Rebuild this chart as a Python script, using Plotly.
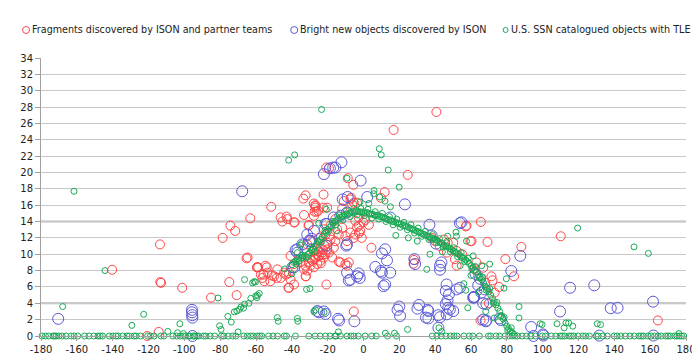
import plotly.graph_objects as go

# ---------------- data (longitude deg, inclination deg) ----------------
red_x = [-120.8, -114.3, -113.6, -113.4, -113.0, -101.2, -140.3, -85.1, -78.6, -74.3, -71.6, -74.9, -70.8, -65.3, -63.2, -59.5,
         -51.5, -46.2, -42.5, -38.8, -30.4, -26.2, -42.9, -33.2, -45.3, -30.7, -26.8, -27.7, -38.4,
         -59.2, -54.6, -53.6, -56.4, -55.4, -57.3, -48.1, -46.2, -44.3, -40.7, -41.6, -38.8, -49.9, -32.3, -31.4, -55.8,
         -51.2, -48.4, -52.0, -41.9, -43.2, -41.6, -32.1, -20.7, -38.8, -36.9, -40.7, -64.7, -58.8, -54.0,
         -27.7, -25.8, -24.0, -23.1, -24.9, -26.8, -28.6, -30.4, -22.1, -21.2, -24.0, -25.8, -29.6, -20.3, -19.3, -27.7,
         -32.3, -35.1, -33.2, -17.5, -16.6, -15.7, -18.4, -13.8, -11.9, -14.7, -10.1, -9.2, -7.3, -5.4, -12.9, -9.2, -8.2,
         -2.7, -4.6, -15.7, -18.4, -22.1, -21.2, -24.9, -28.6, -31.4,
         -26.0, -23.0, -22.5, -25.0, -21.8, -20.0, -27.0, -23.8, -30.0, -19.0,
         -13.8, -10.1, -4.6, -1.8, -3.6, -0.1, -2.5, 4.4, -5.4, -2.5, 1.0, 3.0, -1.0,
         -20.8, -19.3, -8.8, -5.7, -32.3, -33.6, -22.3, -27.7, -26.8, -25.3, -22.5, -20.3, -11.0, -11.9, -7.3, -6.4, -3.6,
         11.8, 9.7, -6.9, -5.4, -26.9, -27.3,
         40.7, 16.8, 24.7,
         27.9, 28.2, 40.0, 42.5, 47.0, 50.1, 52.0, 51.0, 52.0, 57.5, 60.3, 65.5, 57.1, 59.7, 69.2, 88.1, 79.2, 84.0, 110.1,
         164.3, 66.8, 71.4, 75.7, 73.2, 65.3, 62.0, 68.0, 72.0, 55.0, 45.0, 38.0, 63.0, 70.0, 46.5]
red_y = [0.0, 0.5, 11.2, 6.6, 6.5, 5.9, 8.1, 4.7, 12.0, 13.5, 12.85, 6.6, 5.0, 9.5, 14.4, 8.4,
         15.8, 14.5, 14.3, 13.9, 13.6, 15.2, 14.6, 14.8, 14.0, 13.5, 15.7, 14.7, 13.9,
         8.4, 8.6, 7.75, 7.1, 6.7, 7.5, 8.15, 7.1, 7.75, 6.9, 5.9, 6.3, 7.3, 7.3, 8.0, 7.5,
         7.4, 7.1, 6.7, 5.9, 7.5, 7.7, 7.3, 6.3, 8.8, 9.2, 9.8, 9.6, 8.4, 8.4,
         10.4, 10.6, 10.8, 10.2, 9.8, 9.6, 9.2, 9.0, 9.6, 10.0, 9.2, 8.8, 8.6, 10.6, 10.2, 8.4,
         8.6, 9.0, 8.15, 9.6, 10.8, 11.6, 11.8, 12.4, 13.25, 13.05, 12.2, 11.6, 12.65, 12.0, 9.0, 8.6, 9.0,
         14.5, 14.1, 14.3, 13.5, 13.05, 12.4, 12.0, 11.6, 11.2,
         10.0, 9.9, 10.5, 10.3, 11.1, 11.4, 9.4, 8.9, 9.5, 12.2,
         9.1, 8.8, 12.4, 12.85, 13.3, 13.9, 13.5, 10.8, 3.0, 12.6, 14.2, 13.6, 12.0,
         20.6, 20.5, 19.3, 18.5, 17.2, 16.8, 17.3, 16.2, 15.9, 15.3, 15.7, 15.7, 16.5, 15.6, 16.7, 16.1, 16.3,
         17.6, 16.9, 16.9, 16.3, 16.0, 15.2,
         27.4, 25.2, 19.7,
         8.85, 9.3, 11.6, 11.0, 11.4, 11.4, 10.4, 9.4, 8.6, 13.5, 11.6, 13.95, 13.4, 11.6, 11.5, 10.9, 9.4, 7.3, 12.2,
         1.9, 8.35, 7.3, 6.0, 5.3, 1.9, 8.2, 6.5, 6.8, 10.0, 11.8, 12.0, 9.0, 4.0, 10.2]

blue_x = [-170.4, -95.7, -95.7, -95.6, -95.5, -95.5, -67.7,
          -12.3, -16.9, -18.8, -22.1, -15.7, -1.6, 2.1, 23.1, 14.9, 36.8, -20.3,
          -30.4, -29.0, -34.2, -37.9, -36.9, -39.7, -20.7, -9.6,
          10.3, 12.1, 13.1, 14.9, 11.2, 9.7, 6.6, 12.1, 10.3,
          -9.2, -8.2, -2.7, -2.1, -3.6, -7.3,
          28.4, 28.8,
          -24.9, -22.1, -21.2, -14.2, -5.1, -25.8,
          19.0, 20.4, 30.1, 36.2, 34.9, 36.2, 35.8,
          42.7, 46.4, 47.3, 46.9, 47.7, 46.4, 45.9, 45.9, 50.1, 48.2, 41.8,
          52.0, 53.8, 61.2, 41.8,
          42.7, 42.7, 43.5,
          54.7, 53.8,
          87.5, 82.5, 61.6, 65.8, 66.8, 68.6, 76.6, 93.6, 100.1, 109.7,
          115.3, 128.8, 138.0, 141.8, 161.6, 100.4, 131.6, 161.8, 94.8,
          61.8, 67.7, 68.6, 66.8, 68.2, 76.0,
          -27.7, -29.6, -31.4, -36.9, -38.8, -9.2,
          -16.6, -12.9, -9.2, -21.2,
          -11.6, -8.8,
          -13.6, 20.0, 31.0,
          38.0, 40.5, 62.5, 65.0, 64.0]
blue_y = [2.1, 3.2, 2.9, 2.55, 2.25, 0.0, 17.7,
          21.25, 20.6, 20.5, 19.8, 20.6, 19.0, 17.0, 16.1, 14.5, 13.6, 13.7,
          11.6, 11.9, 11.2, 10.5, 10.2, 8.4, 11.05, 11.05,
          10.1, 10.6, 9.25, 7.75, 6.1, 7.95, 8.45, 6.3, 7.75,
          7.75, 6.8, 7.65, 7.1, 7.3, 6.9,
          9.4, 8.8,
          2.9, 3.0, 2.7, 2.1, 1.8, 3.05,
          3.2, 2.45, 3.35, 3.05, 2.25, 2.15, 3.2,
          2.3, 2.65, 3.45, 4.35, 5.1, 6.3, 3.9, 5.5, 3.05, 3.25, 2.55,
          5.7, 5.9, 4.7, 1.0,
          8.6, 8.1, 9.0,
          13.9, 13.8,
          9.8, 7.95, 4.7, 5.3, 4.0, 1.9, 1.95, 1.1, 0.2, 3.0,
          5.9, 6.2, 3.4, 3.45, 4.2, 0.05, 0.05, 0.05, 0.0,
          4.8, 5.7, 3.9, 2.0, 1.8, 2.15,
          12.85, 11.6, 12.4, 10.6, 8.4, 11.2,
          14.5, 14.7, 15.1, 13.7,
          16.7, 17.0,
          1.9, 3.6, 3.8,
          12.3, 11.3, 7.6, 7.0, 6.2]

# catalogued objects: geostationary arc
green_arc_x = [-40, -39, -38, -37, -36, -35, -34, -33, -32, -31, -30, -29, -28, -27, -26, -25, -24, -23, -22, -21,
               -20, -19, -18, -17, -16, -15, -14, -13, -12, -11, -10, -9, -8, -7, -6, -5, -4, -3, -2, -1,
               0, 1, 2, 3, 4, 5, 6, 7, 8, 9, 10, 11, 12, 13, 14, 15, 16, 17, 18, 19,
               20, 21, 22, 23, 24, 25, 26, 27, 28, 29, 30, 31, 32, 33, 34, 35, 36, 37, 38, 39,
               40, 41, 42, 43, 44, 45, 46, 47, 48, 49, 50, 51, 52, 53, 54, 55, 56, 57, 58, 59,
               60, 61, 62, 63, 64, 65, 66, 67, 68, 69, 70, 71, 72, 73, 74, 75, 76, 77, 78, 79,
               80, 81, 82, 83, 84,
               -37.5, -34.5, -31.5, -29.5, -27.5, -25.5, -23.5, -21.5, -19.5, -17.5, -15.5, -13.5, -11.5, -9.5, -7.5,
               -5.5, -3.5, -1.5, 0.5, 2.5, 4.5, 6.5, 8.5, 10.5, 12.5, 14.5, 16.5, 18.5, 20.5, 22.5, 24.5, 26.5, 28.5,
               30.5, 32.5, 34.5, 36.5, 38.5, 40.5, 42.5, 44.5, 46.5, 48.5, 50.5, 52.5, 54.5, 56.5, 58.5, 60.5, 62.5,
               64.5, 66.5, 68.5, 70.5, 72.5, 74.5, 76.5, 78.5, 80.5, 82.5]
green_arc_y = [8.7, 9.0, 9.1, 9.3, 9.2, 9.5, 9.6, 9.8, 9.7, 10.0, 10.2, 10.5, 10.6, 11.0, 11.2, 11.5, 11.8, 12.1, 12.4, 12.7,
               13.0, 13.3, 13.5, 13.8, 14.0, 14.1, 14.3, 14.5, 14.6, 14.7, 14.9, 14.9, 15.0, 15.1, 15.2, 15.1, 15.3, 15.2, 15.2, 15.1,
               15.2, 15.0, 15.1, 15.0, 14.9, 14.9, 14.8, 14.7, 14.8, 14.6, 14.6, 14.5, 14.4, 14.3, 14.2, 14.2, 14.0, 14.0, 13.9, 13.8,
               13.7, 13.7, 13.5, 13.5, 13.4, 13.3, 13.2, 13.1, 13.0, 12.9, 12.8, 12.7, 12.6, 12.5, 12.4, 12.3, 12.2, 12.1, 12.0, 11.9,
               11.8, 11.7, 11.5, 11.4, 11.3, 11.1, 11.0, 10.9, 10.7, 10.6, 10.4, 10.3, 10.1, 10.0, 9.8, 9.6, 9.5, 9.3, 9.1, 8.9,
               8.6, 8.4, 8.1, 7.8, 7.5, 7.2, 6.9, 6.5, 6.1, 5.8, 5.4, 5.0, 4.6, 4.2, 3.8, 3.4, 3.0, 2.5, 2.1, 1.6,
               1.2, 0.9, 0.6, 0.4, 0.2,
               8.8, 9.9, 9.6, 10.8, 10.3, 11.6, 11.5, 12.9, 12.8, 14.0, 13.6, 14.8, 14.2, 15.3, 14.6,
               15.6, 14.8, 15.6, 14.7, 15.5, 14.4, 15.2, 14.3, 15.0, 14.0, 14.6, 13.6, 14.3, 13.3, 13.9, 13.0, 13.6, 12.6,
               13.2, 12.2, 12.8, 11.8, 12.4, 11.4, 11.9, 10.9, 11.4, 10.3, 10.8, 9.7, 10.2, 9.1, 9.5, 8.2, 8.5,
               7.1, 7.2, 5.6, 5.8, 4.0, 4.1, 2.4, 2.3, 0.7, 1.0]

green_other_x = [-161.6, -167.9, -144.3, -122.7, -129.3, -102.5, -109.2, -103.8, -100.5, -80.3, -79.5,
                 -66.4, -60.3, -62.9, -59.5, -81.2, -66.4, -68.4, -69.3, -70.7, -72.1, -75.7, -73.8, -61.9, -61.0,
                 -60.1, -59.2, -58.2, -64.0, -67.0,
                 -47.6, -36.7, -48.1, -36.9, -27.7, -26.8, -22.0, -31.8, -29.9,
                 -23.4, -41.8, -38.4, 8.8, 9.9, 13.8, 19.9, -9.2, 5.9, 5.7, 9.0, -20.8,
                 24.6, 17.3, 12.2, 43.6, 68.2, 99.7, 108.0, 112.0, 132.3, 176.0, 113.0, 114.5, 116.8, 130.5, 98.6,
                 119.5, 151.0, 159.0,
                 86.8, 86.8, 79.7, 78.4, 70.4, 61.2, 56.0, 57.1, 58.2, 42.1, 37.1, 35.3, 51.6, 51.9,
                 -34.7, -35.1, -36.9, -34.2,
                 12.0, 15.0, 3.0, -2.0, 18.0, 25.0, 30.0, 44.0, 47.0, 54.0, 64.5, 66.0, 73.0, 60.0, -15.0, -25.0,
                 -40.0, -44.0, -70.0, -14.0, 57.5]
green_other_y = [17.7, 3.6, 8.0, 2.65, 1.3, 1.5, 0.56, 0.4, 0.3, 1.25, 0.8,
                 6.9, 6.6, 4.6, 4.7, 4.65, 3.9, 3.55, 3.25, 3.05, 2.95, 2.4, 1.7, 6.5, 6.65,
                 4.9, 5.0, 5.2, 4.0, 3.4,
                 1.8, 1.8, 2.25, 2.15, 3.0, 3.2, 2.9, 5.7, 5.8,
                 27.7, 21.5, 22.15, 22.9, 22.15, 20.3, 18.2, 19.3, 17.8, 17.4, 17.0, 15.5,
                 0.8, 0.35, 0.35, 0.55, 3.0, 1.4, 1.5, 1.0, 1.4, 0.3, 1.6, 1.6, 1.2, 1.5, 1.5,
                 13.2, 10.9, 10.1,
                 3.6, 2.2, 7.0, 5.85, 8.8, 9.8, 6.4, 5.6, 3.45, 1.0, 10.0, 8.15, 12.7, 12.2,
                 11.3, 11.1, 10.2, 9.6,
                 16.5, 15.8, 16.2, 16.4, 12.3, 12.0, 11.6, 10.3, 12.2, 8.6, 5.4, 8.6, 2.2, 7.4, 12.9, 13.8,
                 7.6, 8.2, 0.5, 0.5, 11.6]

# objects with (near-)zero inclination
green_zero_x = [-179.5, -177.5, -175.7, -173.2, -172.4, -171.5, -170.0, -168.2, -166.0, -163.2, -161.5, -159.5, -155.7,
                -153.2, -150.5, -148.2, -147.0, -145.7, -141.9, -139.9, -138.2, -137.0, -134.4, -132.0, -130.7, -128.1,
                -126.9, -124.4, -120.5, -118.9, -116.9, -113.1, -111.4, -106.4, -104.3, -102.3, -100.6, -99.3, -97.5,
                -96.8, -95.0, -94.3, -93.1, -92.0, -89.3, -88.0, -85.6, -83.1, -79.3, -78.0, -75.5, -73.0, -71.3, -66.8,
                -64.8, -63.0, -61.5, -59.3, -58.0, -56.8, -53.0, -50.5, -48.0, -44.2, -43.0, -38.0, -30.5, -27.0, -24.2,
                -21.2, -18.7, -16.0, -15.4, -12.9, -9.2, -7.0, -5.4, -2.9, 0.9, 4.6, 7.1, 13.4, 18.4, 38.4, 40.9, 43.4,
                46.0, 48.5, 50.5, 52.2, 56.0, 59.0, 61.0, 64.7, 69.7, 71.0, 74.0, 76.0, 79.0, 81.0, 83.0, 84.5, 86.0,
                88.5, 91.0, 93.5, 96.0, 99.8, 101.5, 104.8, 107.3, 109.8, 111.0, 112.3, 114.8, 116.0, 117.3, 119.8,
                122.4, 124.0, 126.1, 129.9, 131.0, 133.6, 136.1, 139.9, 141.5, 143.6, 146.2, 148.7, 151.2, 153.7,
                155.0, 156.2, 158.7, 160.5, 162.5, 164.5, 166.2, 168.7, 170.0, 171.2, 173.7, 175.0, 176.2, 177.5, 178.7]

x_ticks = [-180, -160, -140, -120, -100, -80, -60, -40, -20, 0, 20, 40, 60, 80, 100, 120, 140, 160, 180]
y_ticks = [0, 2, 4, 6, 8, 10, 12, 14, 16, 18, 20, 22, 24, 26, 28, 30, 32, 34]
legend_names = ["Fragments discovered by ISON and partner teams",
                "Bright new objects discovered by ISON",
                "U.S. SSN catalogued objects with TLE"]

RED = "rgb(255,70,70)"
BLUE = "rgb(90,90,215)"
GREEN = "rgb(25,170,85)"

green_x = green_zero_x + green_arc_x + green_other_x
green_y = [0.0] * len(green_zero_x) + green_arc_y + green_other_y

fig = go.Figure()
fig.add_trace(go.Scatter(x=red_x, y=red_y, mode="markers", name=legend_names[0], cliponaxis=False,
                         marker=dict(symbol="circle-open", size=9, color=RED, line=dict(width=1))))
fig.add_trace(go.Scatter(x=blue_x, y=blue_y, mode="markers", name=legend_names[1], cliponaxis=False,
                         marker=dict(symbol="circle-open", size=11, color=BLUE, line=dict(width=1))))
fig.add_trace(go.Scatter(x=green_x, y=green_y, mode="markers", name=legend_names[2], cliponaxis=False,
                         marker=dict(symbol="circle-open", size=6, color=GREEN, line=dict(width=1))))

W, H = 700, 361
ML, MR, MT, MB = 33, 20, 50, 33
pw, ph = W - ML - MR, H - MT - MB


def px2paper(px, py):
    return (px - ML) / pw, (H - MB - py) / ph


legend_items = [(18, 22.5, RED, 7), (287, 291.5, BLUE, 7), (499, 503, GREEN, 5)]
shapes = []
annotations = []
for (cx, tx, col, d), name in zip(legend_items, legend_names):
    ly = 22
    px_, py_ = px2paper(cx, ly)
    shapes.append(dict(type="circle", xref="paper", yref="paper", xsizemode="pixel", ysizemode="pixel",
                       xanchor=px_, yanchor=py_, x0=-d / 2, x1=d / 2, y0=-d / 2, y1=d / 2,
                       line=dict(color=col, width=1)))
    tpx, tpy = px2paper(tx, ly)
    annotations.append(dict(x=tpx, y=tpy, xref="paper", yref="paper", text=name, showarrow=False,
                            xanchor="left", yanchor="middle", borderpad=0,
                            font=dict(size=9.6, color="#222")))

for yv in [4, 14]:
    shapes.append(dict(type="line", xref="paper", yref="y", x0=0, x1=1, y0=yv, y1=yv, layer="below",
                       line=dict(color="#B8B8B8", width=2)))

fig.update_layout(
    width=W, height=H, margin=dict(l=ML, r=MR, t=MT, b=MB),
    paper_bgcolor="white", plot_bgcolor="white", showlegend=False,
    font=dict(family="DejaVu Sans, Verdana, sans-serif", size=10, color="#222"),
    shapes=shapes, annotations=annotations,
    xaxis=dict(range=[-180, 180], tickvals=x_ticks, ticktext=[str(v) for v in x_ticks],
               showgrid=False, zeroline=False, showline=True, linecolor="#A0A0A0", linewidth=1,
               ticks="outside", ticklen=4, tickcolor="#A0A0A0"),
    yaxis=dict(range=[0, 34], tickvals=y_ticks, ticktext=[str(v) for v in y_ticks],
               showgrid=True, gridcolor="#C8C8C8", gridwidth=1, zeroline=False,
               showline=True, linecolor="#A0A0A0", linewidth=1, ticks="outside", ticklen=5, tickcolor="#A0A0A0"),
)

fig.write_html("out.html")
